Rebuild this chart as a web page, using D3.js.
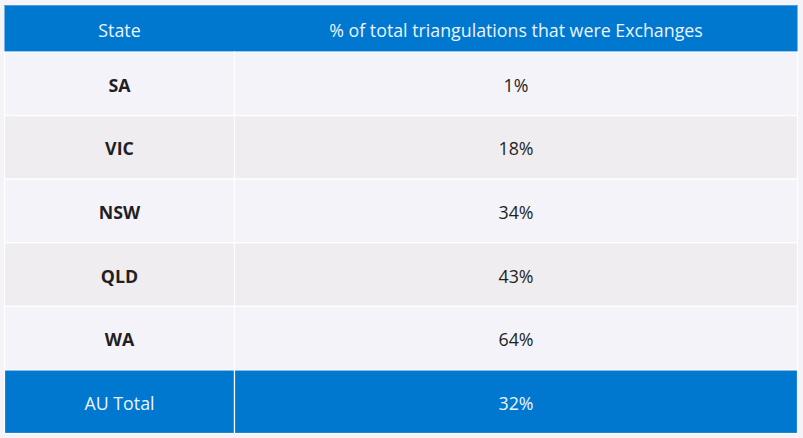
<!DOCTYPE html>
<html><head><meta charset="utf-8">
<script src="https://cdn.jsdelivr.net/npm/d3@7"></script>
<style>
html,body{margin:0;padding:0;background:#f3f3f8;}
svg{display:block;}
text{font-family:"Open Sans","Noto Sans",sans-serif;}
</style></head><body>
<svg id="c" width="803" height="438"></svg>
<script>
const headers = ["State", "% of total triangulations that were Exchanges"];
const states = ["SA", "VIC", "NSW", "QLD", "WA"];
const values = [1, 18, 34, 43, 64];
const totalLabel = "AU Total";
const totalValue = 32;

(function () {
const svg = d3.select("#c");
const left = 4.5, right = 797.5, splitX = 234.5;
const topY = 5, headerBottom = 52, bottomY = 433.5;
const fs = 17.8;

const rowKeys = states.concat([totalLabel]);
const y = d3.scaleBand().domain(rowKeys).range([headerBottom, bottomY]).padding(0);
const x = d3.scaleOrdinal().domain(headers).range([[left, splitX], [splitX, right]]);

const blue = "#0078cf";
const fmt = v => v + "%";

// header
svg.append("rect").attr("x", left).attr("y", topY).attr("width", right - left).attr("height", headerBottom - topY).attr("fill", blue);
svg.append("line").attr("x1", left).attr("x2", right).attr("y1", topY + 0.5).attr("y2", topY + 0.5).attr("stroke", "#4d9be0").attr("stroke-width", 1);
headers.forEach(h => {
  const [a, b] = x(h);
  svg.append("text").attr("x", (a + b) / 2).attr("y", (topY + headerBottom) / 2 + 1)
    .attr("text-anchor", "middle").attr("dominant-baseline", "central")
    .attr("font-size", fs).attr("fill", "#eaf5ff").text(h);
});

const rows = states.map((s, i) => ({key: s, val: fmt(values[i]), total: false, i}));
rows.push({key: totalLabel, val: fmt(totalValue), total: true, i: states.length});

const g = svg.selectAll("g.row").data(rows).join("g").attr("class", "row");
g.each(function(d) {
  const sel = d3.select(this);
  const y0 = y(d.key), h = y.bandwidth();
  const fill = d.total ? blue : (d.i % 2 === 0 ? "#f4f3f9" : "#efedf0");
  headers.forEach((hd, ci) => {
    const [a, b] = x(hd);
    sel.append("rect").attr("x", a).attr("y", y0).attr("width", b - a).attr("height", h)
      .attr("fill", fill).attr("stroke", "#ffffff").attr("stroke-width", 1.2);
    sel.append("text").attr("x", (a + b) / 2).attr("y", y0 + h / 2 + 1)
      .attr("text-anchor", "middle").attr("dominant-baseline", "central")
      .attr("font-size", fs)
      .attr("font-weight", (ci === 0 && !d.total) ? 700 : 400)
      .attr("fill", d.total ? "#eaf5ff" : "#1f1f24")
      .text(ci === 0 ? d.key : d.val);
  });
});
})();
</script></body></html>
